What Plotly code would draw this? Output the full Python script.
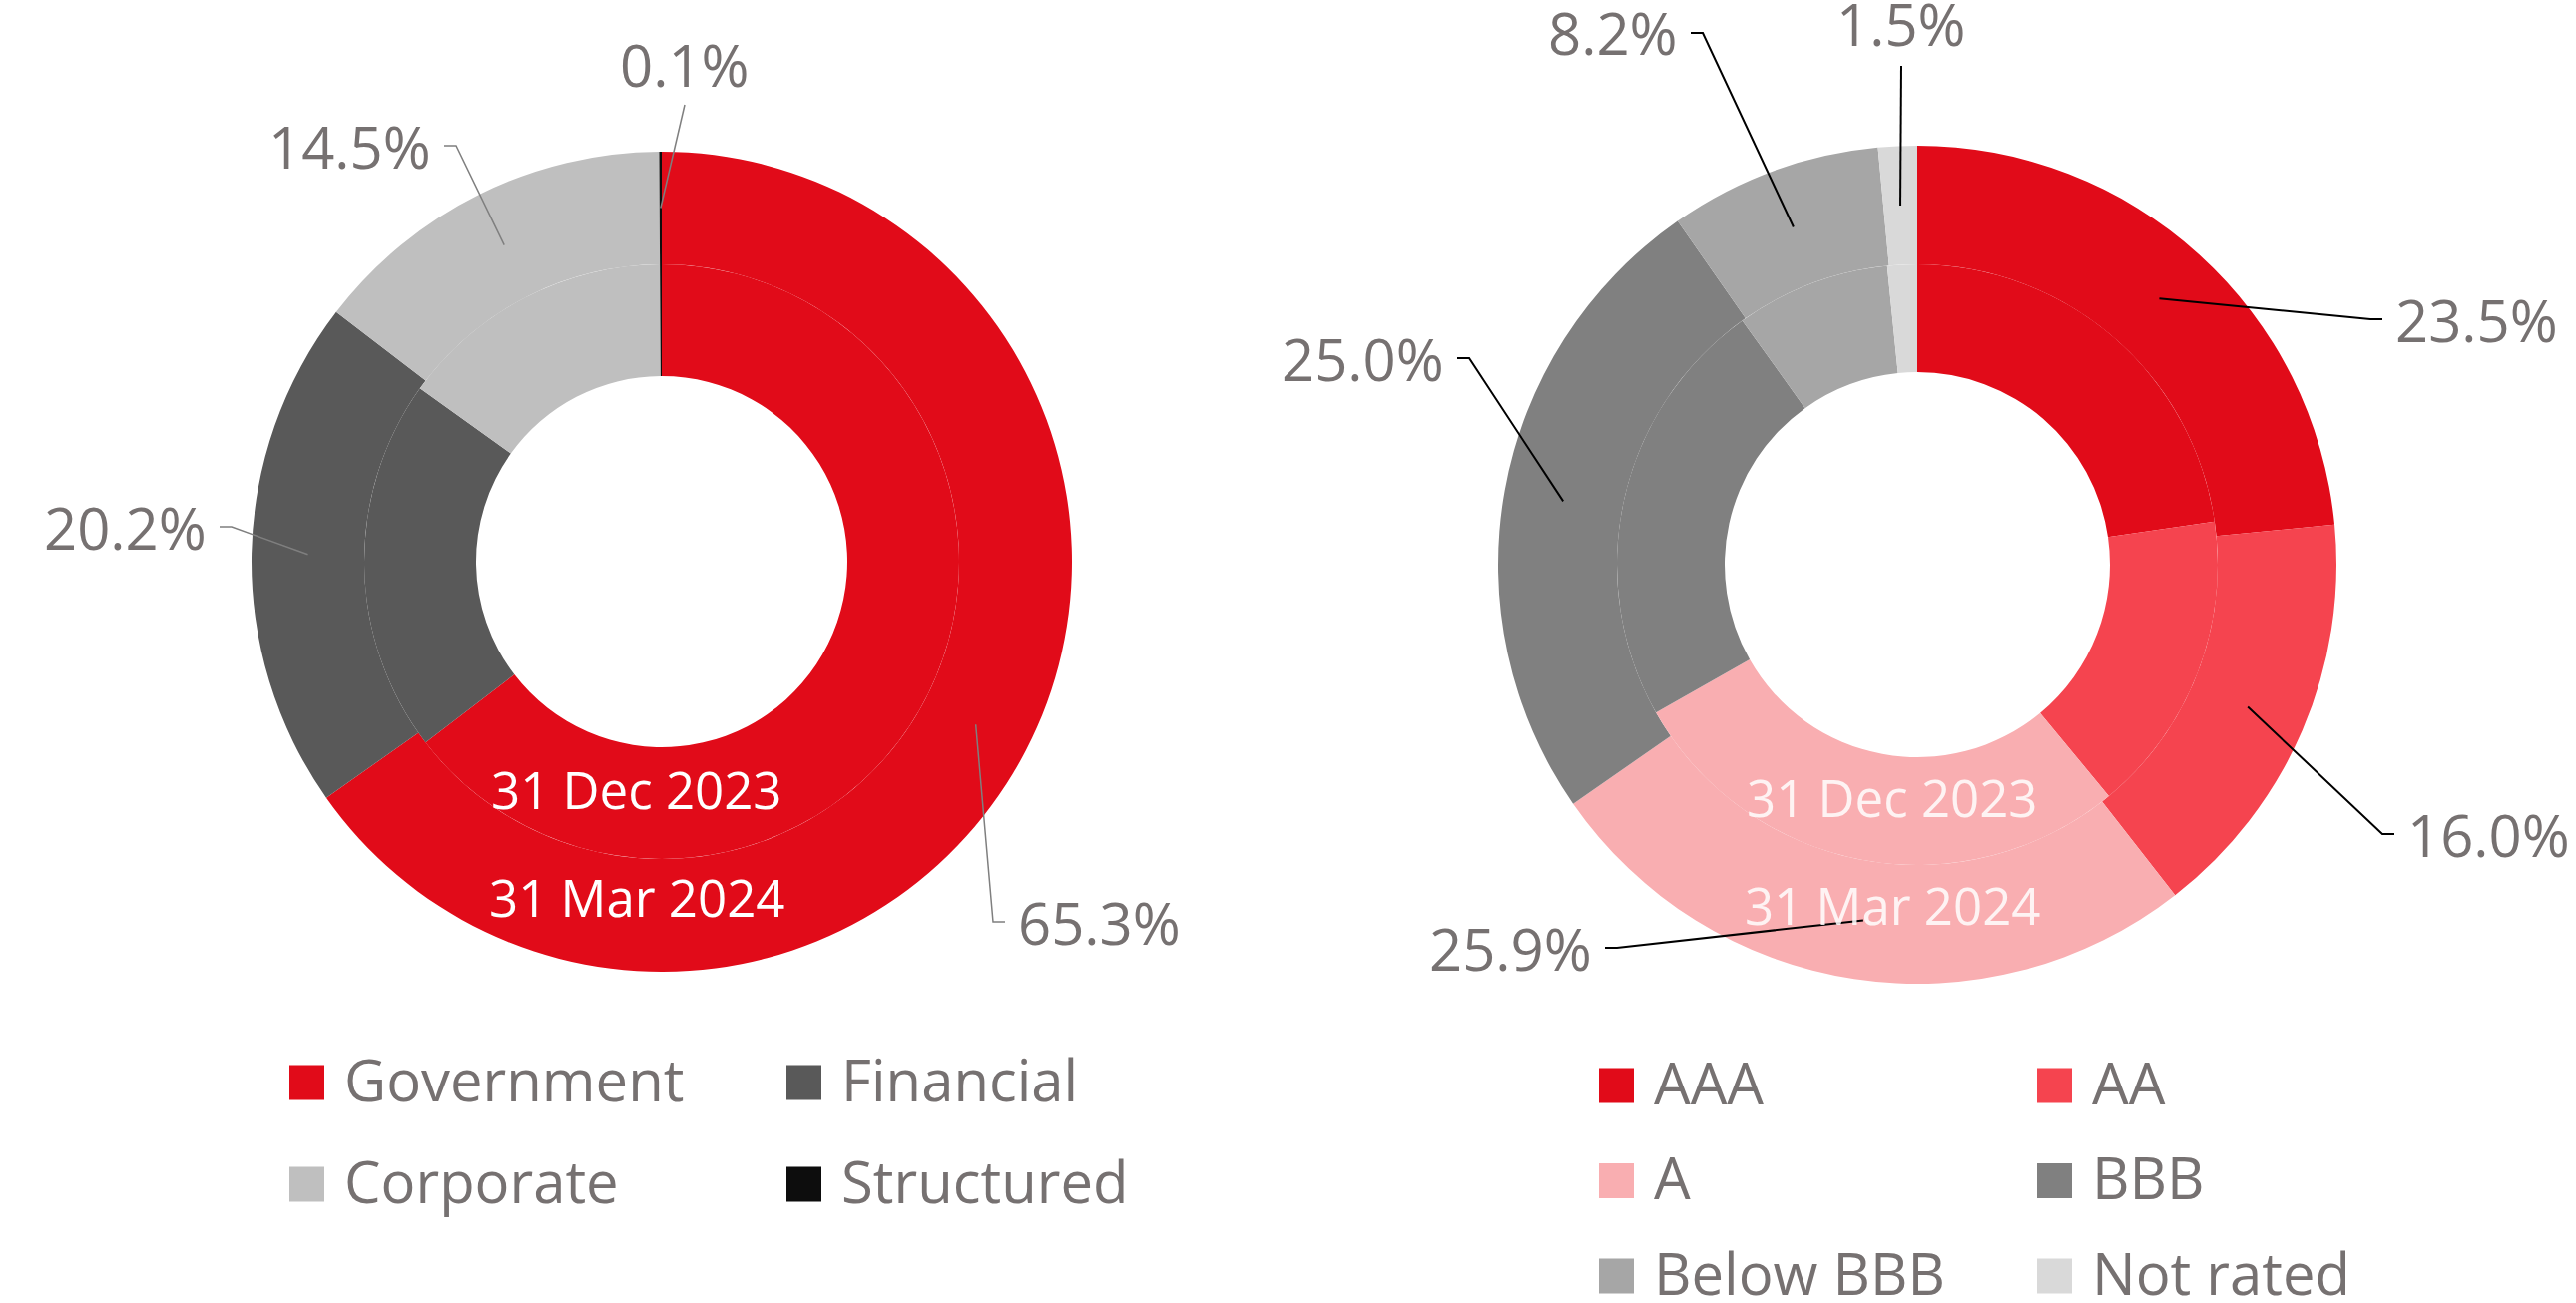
import math
import plotly.graph_objects as go

W, H = 2581, 1306

# ---------------- data ----------------
sectors = ["Government", "Financial", "Corporate", "Structured"]
sector_mar24 = [65.3, 20.2, 14.5, 0.1]
sector_dec23 = [64.6, 20.3, 15.0, 0.1]
sector_colors = ["#E10B19", "#595959", "#BFBFBF", "#0D0D0D"]

ratings = ["AAA", "AA", "A", "BBB", "Below BBB", "Not rated"]
rating_mar24 = [23.5, 16.0, 25.9, 25.0, 8.2, 1.5]
rating_dec23 = [22.7, 16.3, 27.8, 23.3, 8.3, 1.6]
rating_colors = ["#E10B19", "#F5444F", "#F9AEB1", "#808080", "#A6A6A6", "#D9D9D9"]

ring_labels = ["31 Dec 2023", "31 Mar 2024"]

# ---------------- layout geometry (pixels) ----------------
left_geo = dict(cx=663, cy=563, r_out=411, r_mid=298, r_hole=186)
right_geo = dict(cx=1921, cy=566, r_out=420, r_mid=301, r_hole=193)

TEXT_GREY = "#767171"
FONT = "Open Sans"

# label placement: side + elbow point (px)
left_label_pos = [("right", 995, 924), ("left", 232, 528), ("left", 457, 146), ("top", 686, 105, 64)]
right_label_pos = [("right", 2375, 320), ("right", 2387, 836), ("left", 1620, 950),
                   ("left", 1472, 359), ("left", 1706, 33), ("top", 1905, 66, 24)]
ELBOW = 12
GAP = 11

left_legend = dict(x0=290, col_dx=498, y0=1085, row_dy=102)
right_legend = dict(x0=1602, col_dx=439, y0=1088, row_dy=95.5)


def px(x):
    return x / W


def py(y):
    return 1 - y / H


fig = go.Figure()


def add_pie(values, labels, colors, geo, inner):
    r = geo["r_mid"] if inner else geo["r_out"]
    hole = geo["r_hole"] / geo["r_mid"] if inner else geo["r_mid"] / geo["r_out"]
    fig.add_trace(go.Pie(
        values=values, labels=labels, sort=False, direction="clockwise", rotation=0,
        hole=hole, textinfo="none", hoverinfo="label+value",
        marker=dict(colors=colors, line=dict(width=0)),
        domain=dict(x=[px(geo["cx"] - r), px(geo["cx"] + r)],
                    y=[py(geo["cy"] + r), py(geo["cy"] - r)]),
        showlegend=False,
    ))


add_pie(sector_mar24, sectors, sector_colors, left_geo, False)
add_pie(sector_dec23, sectors, sector_colors, left_geo, True)
add_pie(rating_mar24, ratings, rating_colors, right_geo, False)
add_pie(rating_dec23, ratings, rating_colors, right_geo, True)

shapes = []
annotations = []


def add_labels(values, geo, positions, line_color, line_width):
    total = sum(values)
    cum = 0
    r_anchor = (geo["r_mid"] + geo["r_out"]) / 2
    for v, pos in zip(values, positions):
        theta = math.radians((cum + v / 2) / total * 360)
        cum += v
        ax = geo["cx"] + r_anchor * math.sin(theta)
        ay = geo["cy"] - r_anchor * math.cos(theta)
        text = f"{v:.1f}%"
        side = pos[0]
        if side == "top":
            ex, ey, ty = pos[1], pos[2], pos[3]
            path = f"M{px(ax)},{py(ay)} L{px(ex)},{py(ey)}"
            annotations.append(dict(x=px(ex), y=py(ty), text=text, xanchor="center", yanchor="middle"))
        else:
            ex, ey = pos[1], pos[2]
            sgn = 1 if side == "right" else -1
            hx = ex + sgn * ELBOW
            tx = hx + sgn * GAP
            path = f"M{px(ax)},{py(ay)} L{px(ex)},{py(ey)} L{px(hx)},{py(ey)}"
            annotations.append(dict(x=px(tx), y=py(ey), text=text,
                                    xanchor="left" if side == "right" else "right", yanchor="middle"))
        annotations[-1].update(xref="paper", yref="paper", showarrow=False,
                               font=dict(family=FONT, size=58, color=TEXT_GREY))
        shapes.append(dict(type="path", path=path, xref="paper", yref="paper",
                           line=dict(color=line_color, width=line_width)))


add_labels(sector_mar24, left_geo, left_label_pos, "#7F7F7F", 1.5)
add_labels(rating_mar24, right_geo, right_label_pos, "#000000", 2)

# ring date labels
for geo, col in [(left_geo, "#FFFFFF"), (right_geo, "rgba(255,255,255,0.85)")]:
    r_in_mid = (geo["r_hole"] + geo["r_mid"]) / 2
    r_out_mid = (geo["r_mid"] + geo["r_out"]) / 2
    for lab, rr, off in zip(ring_labels, [r_in_mid, r_out_mid], [14, 19]):
        annotations.append(dict(x=px(geo["cx"] - 25), y=py(geo["cy"] + rr - off), text=lab,
                                xref="paper", yref="paper", showarrow=False,
                                xanchor="center", yanchor="middle",
                                font=dict(family=FONT, size=51, color=col)))


def add_legend(names, colors, cfg, ncol=2):
    sz = 35
    for i, (n, c) in enumerate(zip(names, colors)):
        row, col = divmod(i, ncol)
        x0 = cfg["x0"] + col * cfg["col_dx"]
        yc = cfg["y0"] + row * cfg["row_dy"]
        shapes.append(dict(type="rect", xref="paper", yref="paper",
                           x0=px(x0), x1=px(x0 + sz), y0=py(yc + sz / 2), y1=py(yc - sz / 2),
                           fillcolor=c, line=dict(width=0)))
        annotations.append(dict(x=px(x0 + sz + 18), y=py(yc - 4), text=n, xref="paper", yref="paper",
                                showarrow=False, xanchor="left", yanchor="middle",
                                font=dict(family=FONT, size=58, color=TEXT_GREY)))


add_legend(sectors, sector_colors, left_legend)
add_legend(ratings, rating_colors, right_legend)

fig.update_layout(
    width=W, height=H,
    margin=dict(l=0, r=0, t=0, b=0),
    paper_bgcolor="white", plot_bgcolor="white",
    shapes=shapes, annotations=annotations,
    showlegend=False,
    font=dict(family=FONT, color=TEXT_GREY),
)

fig.write_html("out.html", config={"displayModeBar": False},
               post_script="document.body.style.margin='0px';document.body.style.overflow='hidden';")
